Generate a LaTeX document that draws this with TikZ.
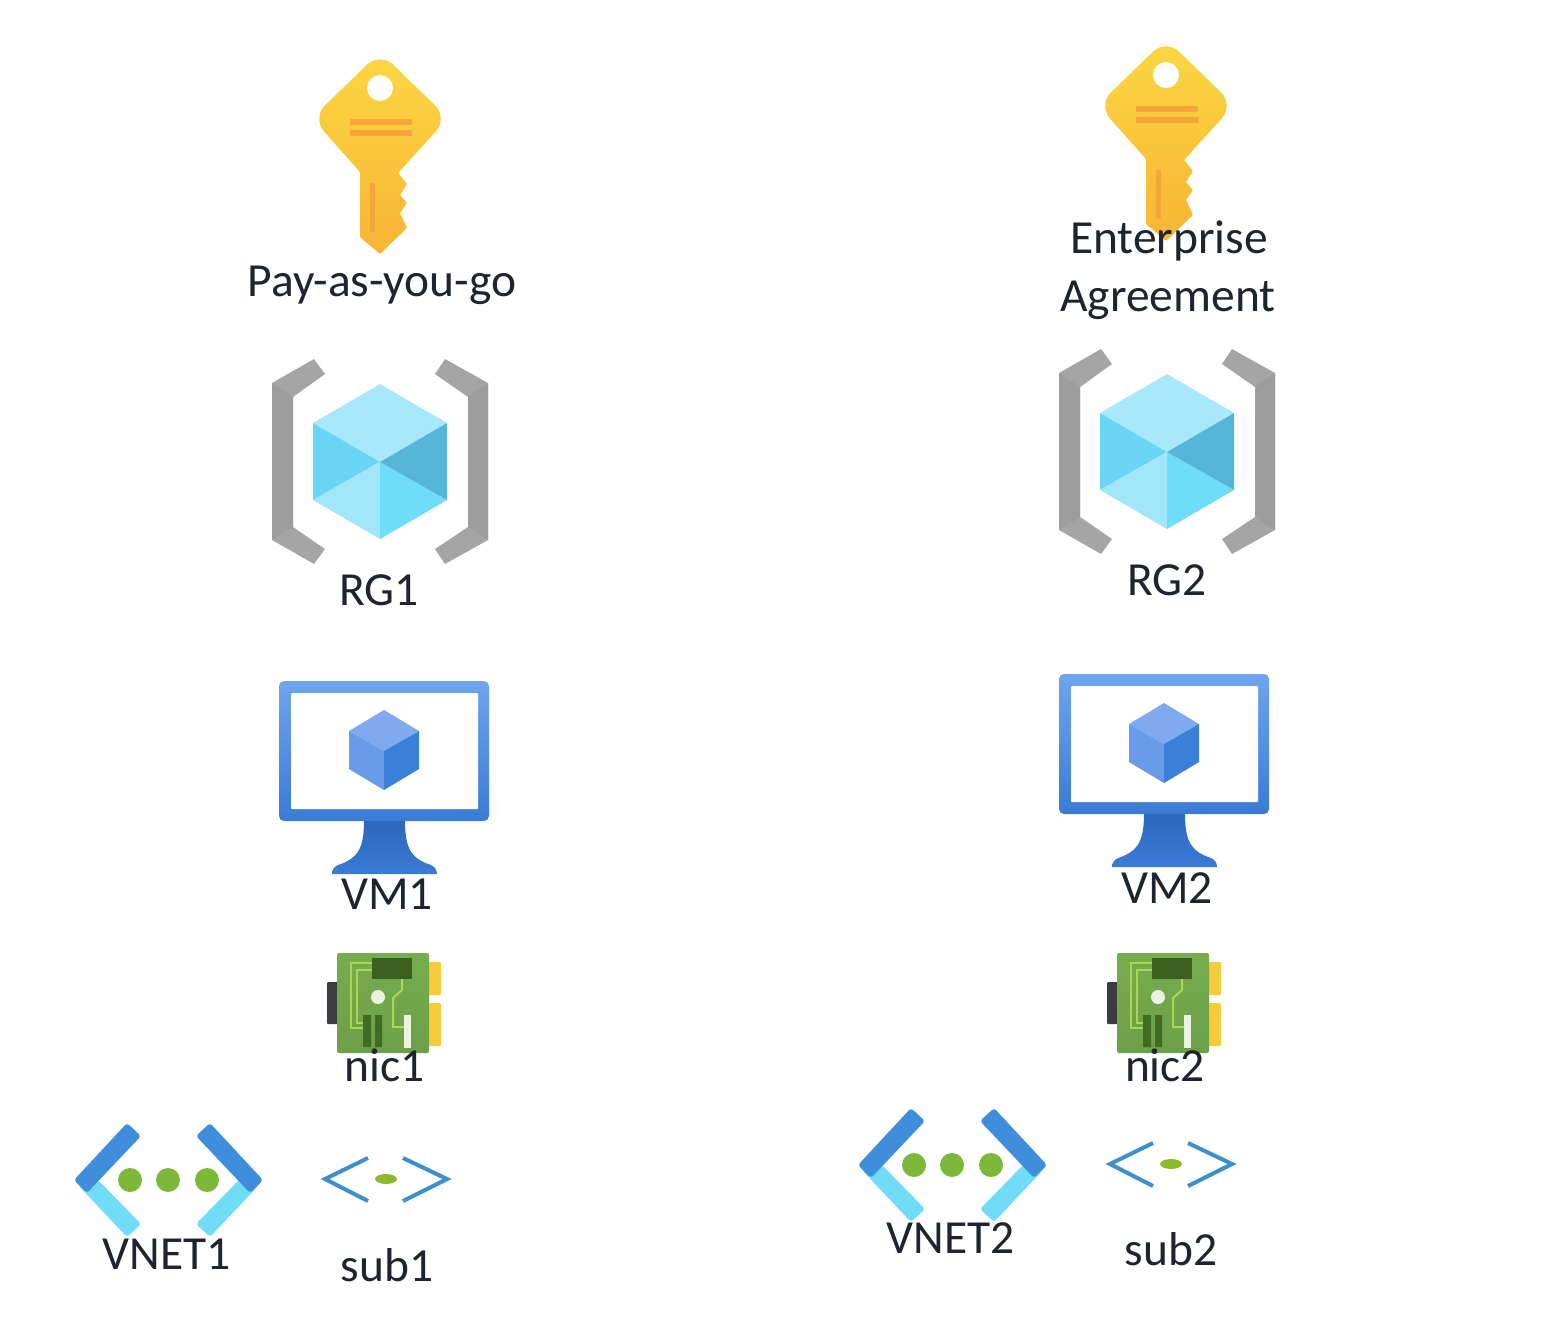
\documentclass[tikz,border=0pt]{standalone}
\usepackage{fontspec}
\setmainfont{Carlito}
\definecolor{keytop}{HTML}{FBD743}
\definecolor{keybot}{HTML}{F8B534}
\definecolor{keybar}{HTML}{F4A63A}
\definecolor{brackgray}{HTML}{A5A5A5}
\definecolor{brackdark}{HTML}{9D9D9D}
\definecolor{vmtop}{HTML}{70A4EE}
\definecolor{vmbot}{HTML}{3A7BD5}
\definecolor{standtop}{HTML}{2C68BC}
\definecolor{netdark}{HTML}{3F8EDC}
\definecolor{netlight}{HTML}{70DCF6}
\definecolor{netdot}{HTML}{7DB83A}
\definecolor{labeltext}{HTML}{1E2430}
\definecolor{cubetop}{HTML}{A8E8FB}
\definecolor{cubeleft}{HTML}{6BD5F5}
\definecolor{cubebotl}{HTML}{A2E6FA}
\definecolor{cubebotr}{HTML}{6FDCF8}
\definecolor{cuberight}{HTML}{56B6D9}
\definecolor{vmcubetop}{HTML}{7FAAF0}
\definecolor{vmcubeleft}{HTML}{699CE8}
\definecolor{vmcuberight}{HTML}{3A7FD8}
\definecolor{nicblack}{HTML}{3B3B40}
\definecolor{nicgold}{HTML}{F6CB3C}
\definecolor{nicgreen}{HTML}{76AD4E}
\definecolor{nicdark}{HTML}{3B5F1E}
\definecolor{nictrace}{HTML}{A9D653}
\definecolor{nicwhite}{HTML}{EAF2E2}
\definecolor{nicstrip}{HTML}{3F6B22}
\definecolor{subblue}{HTML}{3F8FCB}
\definecolor{subgreen}{HTML}{8DB82F}
\tikzset{
  iconlabel/.style={anchor=base,inner sep=0pt,text=labeltext,font=\fontsize{47.5}{47.5}\selectfont},
  pics/keyicon/.style={code={
    \shade[top color=keytop,bottom color=keybot] (-20,54) [rounded corners=18pt] -- (-68,0) -- (0,-66) -- (68,0) -- (43,27.5)
      [rounded corners=1pt] -- (18,55) -- (27,66) -- (20,77) -- (27,85) -- (20,95) -- (27,110) -- (0,136) -- (-20,119) -- cycle;
    \fill[white] (0,-30) circle (13);
    \draw[keybar,line width=6.5pt] (-30,4) -- (32,4) (-30,15) -- (32,15);
    \draw[keybar,line width=5pt] (-8,65) -- (-8,114);
  }},
  pics/rgicon/.style={code={
    \fill[brackgray] (-66,-102) -- (-108,-78) -- (-108,79) -- (-66,103) -- (-55,88) -- (-87,66) -- (-87,-64) -- (-55,-87) -- cycle;
    \fill[brackgray] (65,-102) -- (108,-78) -- (108,79) -- (65,103) -- (55,88) -- (88,66) -- (88,-64) -- (55,-87) -- cycle;
    \fill[brackdark] (-108,-78) -- (-87,-64) -- (-87,66) -- (-108,79) -- cycle;
    \fill[brackdark] (108,-78) -- (88,-64) -- (88,66) -- (108,79) -- cycle;
    \fill[fill=cubetop] (0,-77) -- (67,-38) -- (0,1) -- (-67,-38) -- cycle;
    \fill[fill=cubeleft] (-67,-38) -- (0,1) -- (-67,39) -- cycle;
    \fill[fill=cubebotl] (-67,39) -- (0,1) -- (0,78) -- cycle;
    \fill[fill=cubebotr] (67,39) -- (0,1) -- (0,78) -- cycle;
    \fill[fill=cuberight] (67,-38) -- (0,1) -- (67,39) -- cycle;
  }},
  pics/vmicon/.style={code={
    \shade[top color=standtop,bottom color=vmbot] (-20,70) .. controls (-20,100) and (-28,108) .. (-46,114) .. controls (-50,116) and (-52,119) .. (-52,123)
      -- (53,123) .. controls (53,119) and (51,116) .. (47,114) .. controls (29,108) and (21,100) .. (21,70) -- cycle;
    \shade[top color=vmtop,bottom color=vmbot,rounded corners=5pt] (-105,-70) rectangle (105,70);
    \fill[white,rounded corners=1pt] (-93,-58) rectangle (94,58);
    \fill[fill=vmcubetop] (0,-41) -- (35,-20) -- (0,0) -- (-35,-20) -- cycle;
    \fill[fill=vmcubeleft] (-35,-20) -- (0,0) -- (0,39) -- (-35,18) -- cycle;
    \fill[fill=vmcuberight] (35,-20) -- (0,0) -- (0,39) -- (35,18) -- cycle;
  }},
  pics/nicicon/.style={code={
    \fill[fill=nicblack,rounded corners=1pt] (-57,-21) rectangle (-46,21);
    \fill[fill=nicgold,rounded corners=1pt] (44,-41) rectangle (57,-8) (44,0) rectangle (57,43);
    \shade[top color=nicgreen,bottom color=nicgreen!92!black,rounded corners=2pt] (-47,-50) rectangle (45,50);
    \fill[fill=nicdark] (-12,-45) rectangle (28,-24);
    \draw[nictrace,line width=2pt] (-12,-40) -- (-33,-40) -- (-33,25) -- (-21,25);
    \draw[nictrace,line width=2pt] (-12,-33) -- (-27,-33) -- (-27,20) -- (-21,20);
    \draw[nictrace,line width=2pt] (18,-24) -- (18,-13) -- (9,-5) -- (9,24) -- (20,24);
    \fill[fill=nicwhite] (-6,-6) circle (7);
    \fill[fill=nicwhite] (20,12) rectangle (27,45);
    \fill[fill=nicstrip] (-21,12) rectangle (-13,44) (-9,12) rectangle (-2,44);
  }},
  pics/vneticon/.style={code={
    \fill[netlight,rounded corners=3pt] (-90,5) -- (-41,57) -- (-27,44) -- (-70,0) -- cycle;
    \fill[netlight,rounded corners=3pt] (91,5) -- (42,57) -- (28,44) -- (71,0) -- cycle;
    \fill[netdark,rounded corners=3pt] (-94,0) -- (-41,-57) -- (-27,-44) -- (-81,13) -- cycle;
    \fill[netdark,rounded corners=3pt] (95,0) -- (42,-57) -- (28,-44) -- (82,13) -- cycle;
    \foreach \dotx in {-38,0,39}
      \fill[netdot] (\dotx,0) circle (12);
  }},
  pics/subicon/.style={code={
    \draw[subblue,line width=4pt] (-17,-21) -- (-60,0) -- (-17,22);
    \draw[subblue,line width=4pt] (18,-21) -- (62,0) -- (18,22);
    \fill[subgreen] (1,0) ellipse (11 and 5);
  }},
}
\begin{document}
\begin{tikzpicture}[x=1pt,y=-1pt]
\useasboundingbox (0,0) rectangle (1558,1326);

% Left column
\pic (keyone) at (380,118) {keyicon};
\pic (rgone) at (380,461) {rgicon};
\pic (vmone) at (384,751) {vmicon};
\pic (nicone) at (384,1003) {nicicon};
\pic (vnetone) at (168,1180) {vneticon};
\pic (subone) at (385,1179) {subicon};

% Right column
\pic (keytwo) at (1166,105) {keyicon};
\pic (rgtwo) at (1167,451) {rgicon};
\pic (vmtwo) at (1164,744) {vmicon};
\pic (nictwo) at (1164,1003) {nicicon};
\pic (vnettwo) at (952,1165) {vneticon};
\pic (subtwo) at (1170,1164) {subicon};

% Labels
\node[iconlabel] (keyonelabel) at (382,296) {Pay-as-you-go};
\node[iconlabel] (rgonelabel) at (379,605) {RG1};
\node[iconlabel] (vmonelabel) at (387,909) {VM1};
\node[iconlabel] (niconelabel) at (385,1081) {nic1};
\node[iconlabel] (vnetonelabel) at (167,1269) {VNET1};
\node[iconlabel] (subonelabel) at (387,1281) {sub1};

\node[iconlabel] (keytwolabel) at (1169,253) {Enterprise};
\node[iconlabel] (keytwolabelb) at (1168,311) {Agreement};
\node[iconlabel] (rgtwolabel) at (1167,595) {RG2};
\node[iconlabel] (vmtwolabel) at (1167,903) {VM2};
\node[iconlabel] (nictwolabel) at (1165,1081) {nic2};
\node[iconlabel] (vnettwolabel) at (951,1253) {VNET2};
\node[iconlabel] (subtwolabel) at (1171,1265) {sub2};

\end{tikzpicture}
\end{document}
